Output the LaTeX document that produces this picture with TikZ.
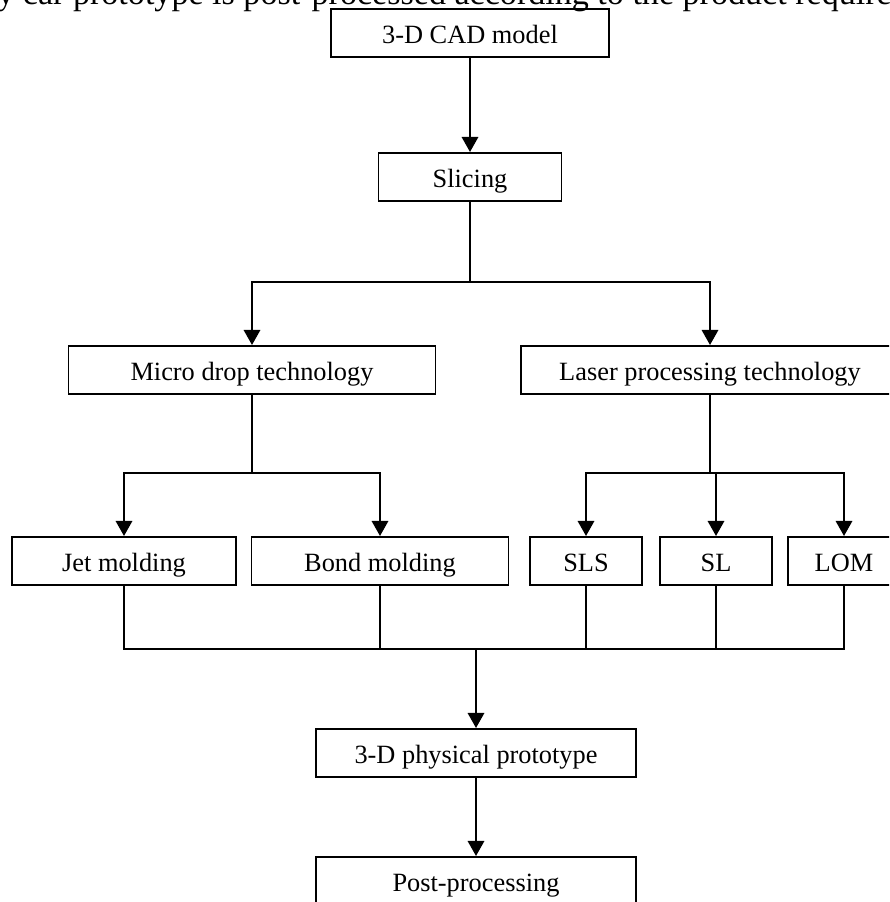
\documentclass[tikz,border=0pt]{standalone}
\usepackage{fontspec}
\setmainfont{Liberation Serif}
\usetikzlibrary{arrows.meta}

\begin{document}
\begin{tikzpicture}[
      x=0.02cm, y=-0.02cm,
      fbox/.style={rectangle, draw=black, line width=0.9pt, inner sep=0pt,
                   minimum height=0.97cm, text height=13pt, text depth=1.6pt,
                   align=center, font=\fontsize{15}{18}\selectfont},
      link/.style={draw=black, line width=0.9pt},
      arr/.style={link, -{Triangle[length=0.3cm, width=0.33cm]}}
    ]
    \clip (0,0) rectangle (889,902);

    % cut-off line of the running text above the figure
    \node[anchor=base west, inner sep=0pt, font=\fontsize{19.4}{23}\selectfont]
          (runin) at (-3,5)
          {y car prototype is post-processed according to the product require};

    \node[fbox, minimum width=5.56cm]  (cad)    at (470, 33)  {3-D CAD model};
    \node[fbox, minimum width=3.66cm]  (slice)  at (470, 177) {Slicing};
    \node[fbox, minimum width=7.34cm]  (micro)  at (252, 370) {Micro drop technology};
    \node[fbox, minimum width=7.56cm]  (laser)  at (710, 370) {Laser processing technology};

    \node[fbox, minimum width=4.48cm]  (jet)    at (124, 561) {Jet molding};
    \node[fbox, minimum width=5.14cm]  (bond)   at (380, 561) {Bond molding};
    \node[fbox, minimum width=2.24cm]  (sls)    at (586, 561) {SLS};
    \node[fbox, minimum width=2.24cm]  (sl)     at (716, 561) {SL};
    \node[fbox, minimum width=2.24cm]  (lom)    at (844, 561) {LOM};

    \node[fbox, minimum width=6.4cm]   (proto)  at (476, 753) {3-D physical prototype};
    \node[fbox, minimum width=6.4cm]   (post)   at (476, 881) {Post-processing};

    \coordinate (fork1) at (470, 282);
    \coordinate (fork2) at (252, 473);
    \coordinate (fork3) at (710, 473);
    \coordinate (merge) at (476, 649);

    \draw[arr]  (cad) -- (slice);
    \draw[link] (slice) -- (fork1);
    \draw[arr]  (fork1) -| (micro);
    \draw[arr]  (fork1) -| (laser);

    \draw[link] (micro) -- (fork2);
    \foreach \n in {jet, bond}
      \draw[arr] (fork2) -| (\n);
    \draw[link] (laser) -- (fork3);
    \foreach \n in {sls, sl, lom}
      \draw[arr] (fork3) -| (\n);

    \foreach \n in {jet, bond, sls, sl, lom}
      \draw[link] (\n) |- (merge);
    \draw[arr] (merge) -- (proto);
    \draw[arr] (proto) -- (post);
  \end{tikzpicture}
\end{document}
